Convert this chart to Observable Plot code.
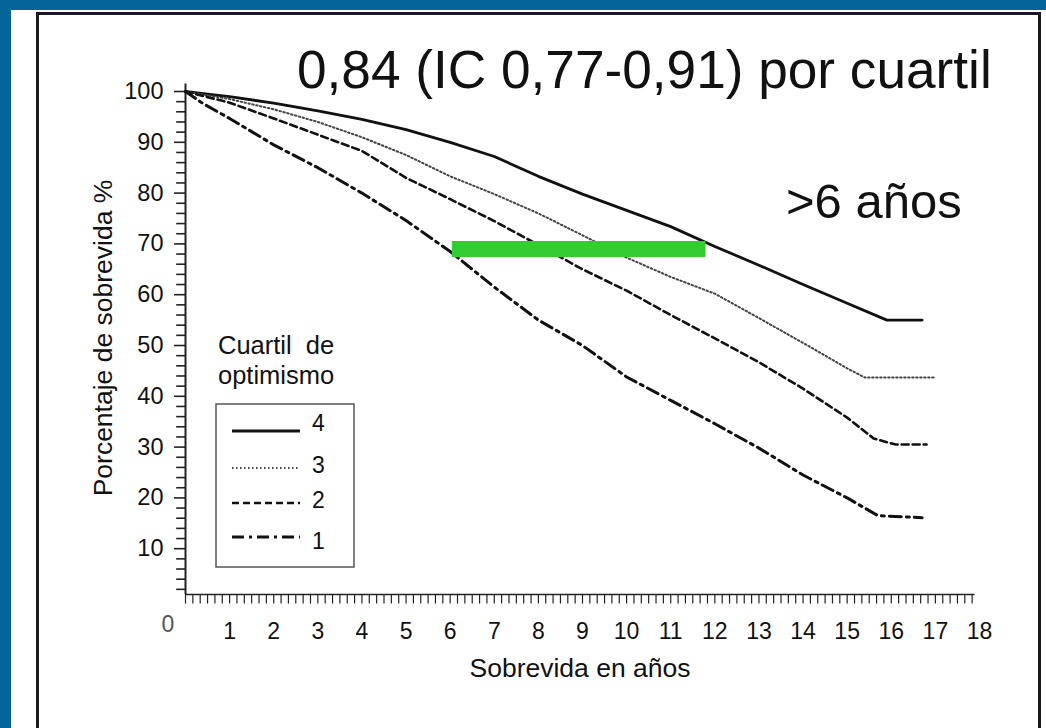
<!DOCTYPE html>
<html><head><meta charset="utf-8">
<script src="https://cdn.jsdelivr.net/npm/d3@7"></script>
<script src="https://cdn.jsdelivr.net/npm/@observablehq/plot@0.6"></script>
<style>
html,body{margin:0;padding:0;}
body{width:1046px;height:728px;overflow:hidden;background:#05659b;position:relative;font-family:"Liberation Sans",Arial,sans-serif;}
#white{position:absolute;left:11px;top:10px;right:0;bottom:0;background:#fff;}
#frame{position:absolute;left:36px;top:12px;width:1005px;height:760px;border:3px solid #1a1a1a;box-sizing:border-box;}
#chart{position:absolute;left:0;top:0;}
#overlay{position:absolute;left:0;top:0;}
#overlay text{font-family:"Liberation Sans",Arial,sans-serif;fill:#111;}
</style></head><body>
<div id="white"></div><div id="frame"></div><div id="chart"></div>
<svg id="overlay" width="1046" height="728"></svg>
<script>
// ---- data ----
const q4Years = [0,0.5,1,2,3,4,5,6,7,8,9,10,11,12,13,14,15,15.9,16.7];
const q4Surv  = [100,99.5,99,97.7,96.2,94.5,92.5,90,87.2,83.3,79.8,76.6,73.4,69.5,65.8,62,58.3,55,55];
const q3Years = [0,1,2,3,4,5,6,7,8,9,10,11,12,13,14,15,15.4,17];
const q3Surv  = [100,98.5,96.5,94,91,87.5,83.3,79.8,76,71.7,67.3,63.5,60.2,55.4,50.5,45.5,43.7,43.7];
const q2Years = [0,1,2,3,4,5,6,7,8,9,10,11,12,13,14,15,15.6,16.1,16.8];
const q2Surv  = [100,97.8,94.7,91.5,88.3,83,78.8,74.5,69.8,65,60.8,56,51.4,46.7,41.5,35.8,31.7,30.5,30.5];
const q1Years = [0,0.4,1,2,3,4,5,6,7,8,9,10,11,12,13,14,15,15.7,16.7];
const q1Surv  = [100,97.6,94.7,89.5,85,80,74.6,68.5,61.5,55,50,43.8,39.2,34.6,29.8,24.5,20,16.5,16.1];
const quartiles = ["4","3","2","1"];
const xTickLabels = d3.range(1, 19);
const yTickLabels = d3.range(10, 101, 10);
const greenBar = [{from: 6.05, to: 11.8, surv: 69}];
const titleText = "0,84 (IC 0,77-0,91) por cuartil";
const noteText = ">6 años";
const xTitle = "Sobrevida en años";
const yTitle = "Porcentaje de sobrevida %";
const legendTitle = ["Cuartil\u00a0\u00a0de", "optimismo"];

// ---- styles ----
const styles = {
  "4": {stroke: "#111", strokeWidth: 2.8, dash: null},
  "3": {stroke: "#444", strokeWidth: 2, dash: "1.5,2.5"},
  "2": {stroke: "#111", strokeWidth: 2.6, dash: "7,4"},
  "1": {stroke: "#111", strokeWidth: 3, dash: "12,5,3,5"}
};
const seriesData = {
  "4": q4Years.map((t, i) => ({t, s: q4Surv[i]})),
  "3": q3Years.map((t, i) => ({t, s: q3Surv[i]})),
  "2": q2Years.map((t, i) => ({t, s: q2Surv[i]})),
  "1": q1Years.map((t, i) => ({t, s: q1Surv[i]}))
};

const xMinor = d3.range(0, 108).map(i => i / 6).filter(v => v <= 17.9);
const yMinor = d3.range(2, 101, 2);

const plot = Plot.plot({
  width: 1046, height: 728,
  marginLeft: 185, marginRight: 67, marginTop: 91, marginBottom: 129,
  x: {domain: [0, 18]},
  y: {domain: [0, 100]},
  style: {fontFamily: '"Liberation Sans", Arial, sans-serif', color: "#111", background: "transparent"},
  marks: [
    Plot.ruleX(xMinor, {x: d => d, y1: 1, y2: -0.9, stroke: "#222", strokeWidth: 1.2}),
    Plot.ruleY([1], {x1: 0, x2: 17.9, stroke: "#222", strokeWidth: 1.5}),
    Plot.ruleX([0], {y1: 1, y2: 101.5, stroke: "#222", strokeWidth: 2}),
    Plot.ruleY(yMinor, {y: d => d, x1: d => d % 10 === 0 ? -0.25 : -0.2, x2: 0, stroke: "#222", strokeWidth: 1.6}),
    Plot.axisY({ticks: yTickLabels, tickSize: 0, tickPadding: 22, fontSize: 23.5, label: null}),
    Plot.axisX({ticks: xTickLabels, tickSize: 0, tickPadding: 23, fontSize: 23, label: null}),
    ...quartiles.map(q => Plot.line(seriesData[q], {
      x: "t", y: "s", stroke: styles[q].stroke, strokeWidth: styles[q].strokeWidth,
      strokeDasharray: styles[q].dash, strokeLinejoin: "round"
    })),
    Plot.ruleY(greenBar, {x1: "from", x2: "to", y: "surv", stroke: "#33cc33", strokeWidth: 16})
  ]
});
document.getElementById("chart").appendChild(plot);

// ---- overlay texts & legend ----
const ov = d3.select("#overlay");
ov.append("text").attr("x", 297).attr("y", 88).attr("font-size", 53.2).text(titleText);
ov.append("text").attr("x", 786).attr("y", 218).attr("font-size", 49).text(noteText);
ov.append("text").attr("x", 580).attr("y", 677).attr("font-size", 26.5).attr("text-anchor", "middle").text(xTitle);
ov.append("text").attr("transform", "translate(112,338) rotate(-90)").attr("font-size", 26.5).attr("text-anchor", "middle").text(yTitle);
ov.append("text").attr("x", 168).attr("y", 632).attr("font-size", 23).attr("text-anchor", "middle").style("fill", "#555").text("0");
ov.append("text").attr("x", 218).attr("y", 354).attr("font-size", 25.5).text(legendTitle[0]);
ov.append("text").attr("x", 218).attr("y", 384).attr("font-size", 25.5).text(legendTitle[1]);
ov.append("rect").attr("x", 216).attr("y", 404).attr("width", 138).attr("height", 163)
  .attr("fill", "none").attr("stroke", "#555").attr("stroke-width", 1.5);
const legY = [431, 468, 503, 537];
quartiles.forEach((q, i) => {
  ov.append("line").attr("x1", 232).attr("x2", 300).attr("y1", legY[i]).attr("y2", legY[i])
    .attr("stroke", styles[q].stroke).attr("stroke-width", styles[q].strokeWidth)
    .attr("stroke-dasharray", styles[q].dash);
  ov.append("text").attr("x", 312).attr("y", legY[i] + (i === 3 ? 12 : i === 0 ? 0 : 5)).attr("font-size", 23).text(q);
});
</script>
</body></html>
